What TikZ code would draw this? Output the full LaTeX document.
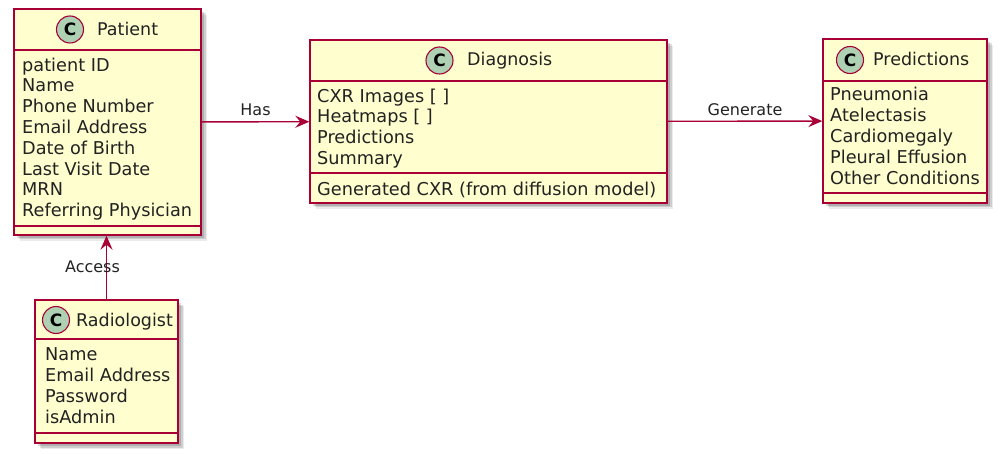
\documentclass[tikz,border=0pt]{standalone}
\usepackage{fontspec}
\setmainfont{DejaVu Sans}
\usetikzlibrary{arrows.meta,shadows}
\definecolor{umlred}{HTML}{A80036}
\definecolor{umlfill}{HTML}{FEFECE}
\definecolor{umlgreen}{HTML}{ADD1B2}
\definecolor{umltext}{HTML}{222222}
\tikzset{
  cls/.style={draw=umlred, fill=umlfill, line width=1.4pt, inner sep=0pt,
    drop shadow={shadow xshift=6pt, shadow yshift=-6pt, opacity=.08, fill=black},
    drop shadow={shadow xshift=4.5pt, shadow yshift=-4.5pt, opacity=.12, fill=black},
    drop shadow={shadow xshift=3pt, shadow yshift=-3pt, opacity=.15, fill=black}},
  sepline/.style={draw=umlred, line width=1.4pt},
  badge/.style={circle, draw=umlred, fill=umlgreen, line width=1.1pt, minimum size=27pt,
    inner sep=0pt, text=black, font=\fontsize{17}{17}\selectfont\bfseries},
  title/.style={anchor=base west, inner sep=0pt, text=umltext, font=\fontsize{17.5}{21}\selectfont},
  attrs/.style={anchor=north west, align=left, inner sep=0pt, text=umltext, font=\fontsize{17.7}{20.8}\selectfont},
  rel/.style={draw=umlred, line width=1.4pt, -{Stealth[length=14pt,width=12pt,inset=5pt]}},
  lbl/.style={inner sep=0pt, text=umltext, font=\fontsize{16}{16}\selectfont}
}
\begin{document}
\begin{tikzpicture}[x=1pt, y=-1pt]
  \useasboundingbox (0,0) rectangle (1006,454);
  % class boxes
  \node[cls, minimum width=187pt, minimum height=226pt] (Pat) at (107.5,122) {};
  \node[cls, minimum width=357pt, minimum height=163pt] (Diag) at (488.5,121.5) {};
  \node[cls, minimum width=164pt, minimum height=164pt] (Pred) at (905,121) {};
  \node[cls, minimum width=143pt, minimum height=143pt] (Rad) at (106.5,371.5) {};
  % compartments
  \draw[sepline] (Pat.west |- 0,50) -- (Pat.east |- 0,50);
  \draw[sepline] (Pat.west |- 0,226) -- (Pat.east |- 0,226);
  \draw[sepline] (Diag.west |- 0,81) -- (Diag.east |- 0,81);
  \draw[sepline] (Diag.west |- 0,173) -- (Diag.east |- 0,173);
  \draw[sepline] (Pred.west |- 0,81) -- (Pred.east |- 0,81);
  \draw[sepline] (Pred.west |- 0,193) -- (Pred.east |- 0,193);
  \draw[sepline] (Rad.west |- 0,339) -- (Rad.east |- 0,339);
  \draw[sepline] (Rad.west |- 0,433) -- (Rad.east |- 0,433);
  % headers
  \node[badge] (Pat-c) at (70,29.5) {C};
  \node[title] (Pat-t) at (97,35.5) {Patient};
  \node[badge] (Diag-c) at (439.5,60.5) {C};
  \node[title] (Diag-t) at (467,66) {Diagnosis};
  \node[badge] (Pred-c) at (850,60) {C};
  \node[title] (Pred-t) at (873,66) {Predictions};
  \node[badge] (Rad-c) at (56,320) {C};
  \node[title] (Rad-t) at (76,326) {Radiologist};
  % members
  \node[attrs] (Pat-a) at (22,56.4) {\strut patient ID\\Name\\Phone Number\\Email Address\\Date of Birth\\Last Visit Date\\MRN\\Referring Physician};
  \node[attrs] (Diag-a) at (317,87.4) {\strut CXR Images [ ]\\Heatmaps [ ]\\Predictions\\Summary};
  \node[attrs] (Diag-m) at (317,180.4) {\strut Generated CXR (from diffusion model)};
  \node[attrs] (Pred-a) at (830,86.1) {\strut Pneumonia\\Atelectasis\\Cardiomegaly\\Pleural Effusion\\Other Conditions};
  \node[attrs] (Rad-a) at (45,346.1) {\strut Name\\Email Address\\Password\\isAdmin};
  % relations
  \draw[rel] (Pat) -- node[lbl, above=5pt] {Has} (Diag);
  \draw[rel] (Diag) -- node[lbl, above=5pt] {Generate} (Pred);
  \draw[rel] (Rad.north) -- node[lbl, xshift=-14pt, yshift=1pt] {Access} (Rad.north |- Pat.south);
\end{tikzpicture}
\end{document}
